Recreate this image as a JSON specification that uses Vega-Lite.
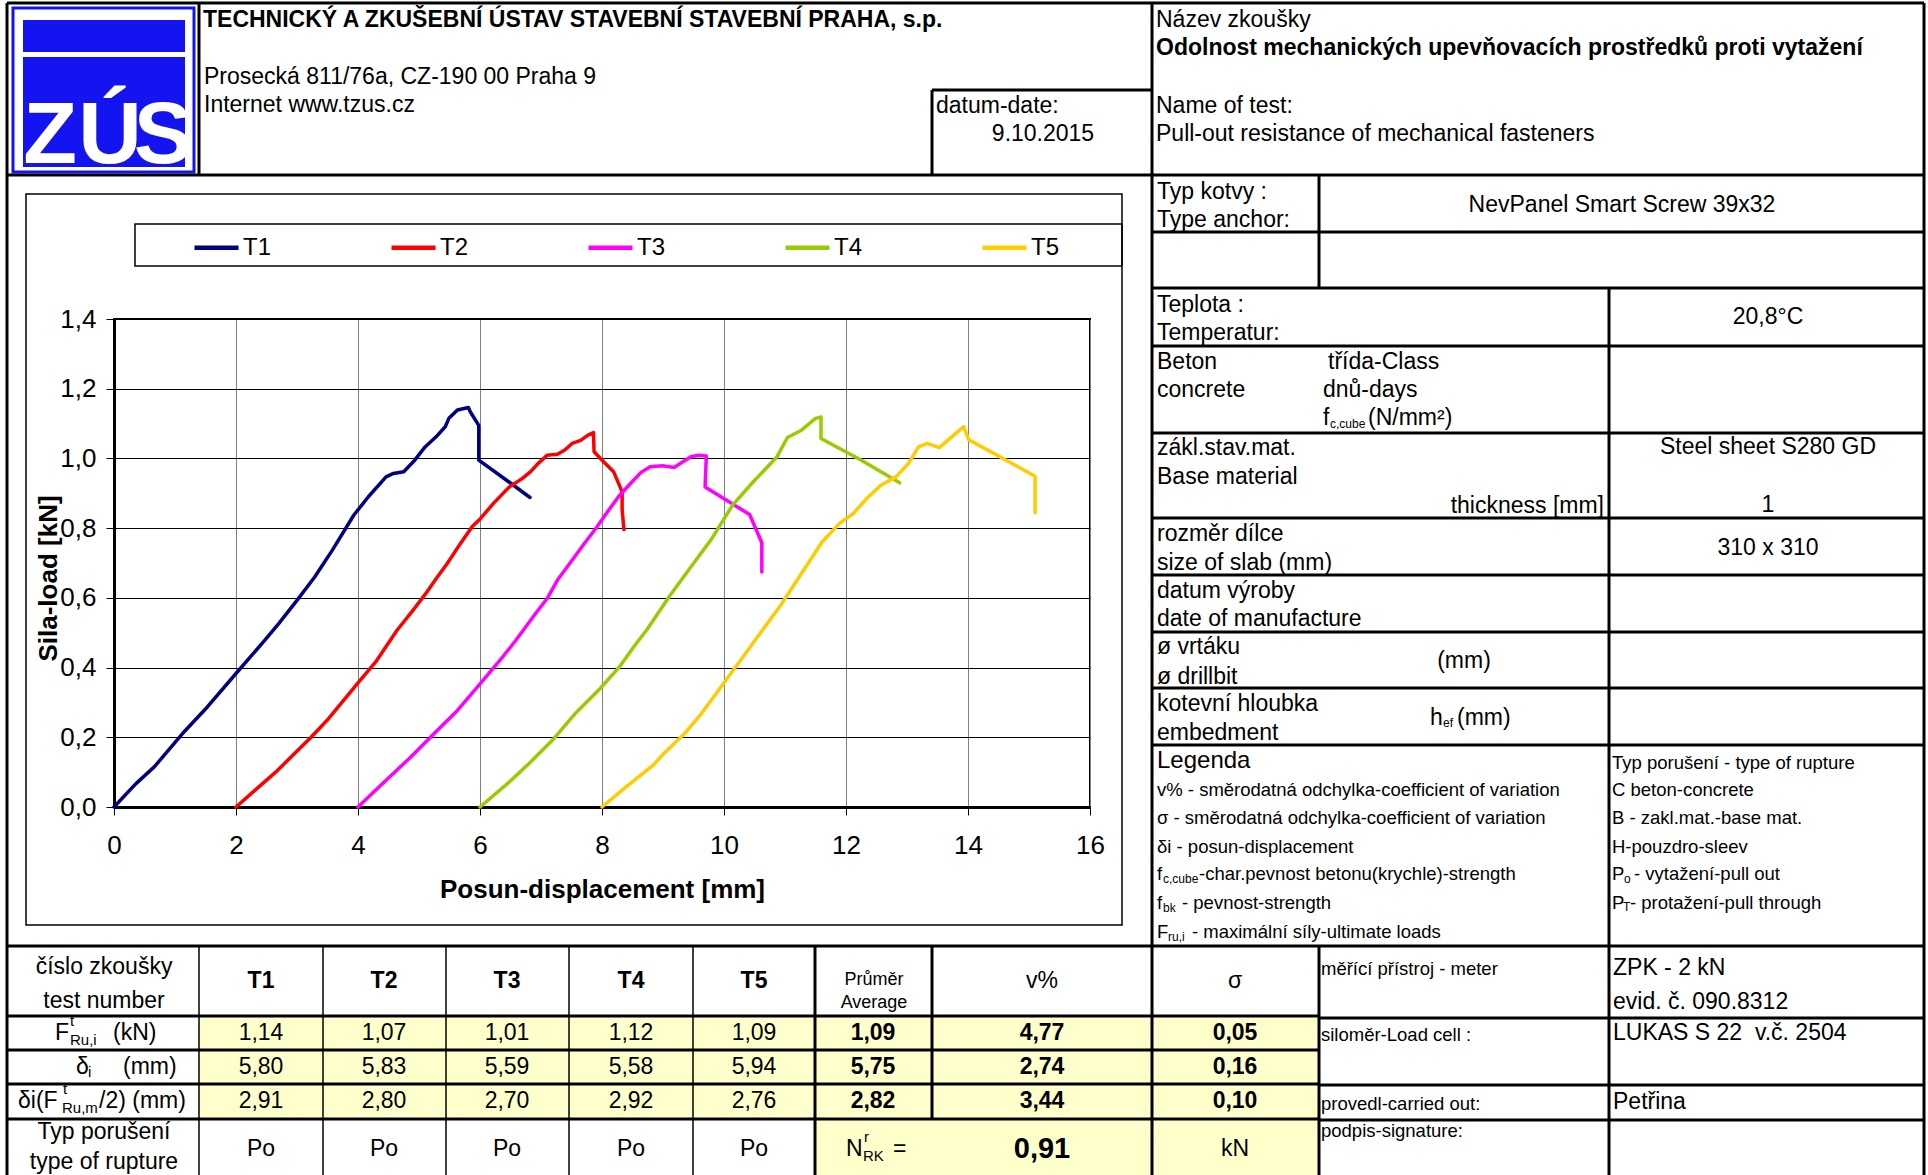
{
  "$schema": "https://vega.github.io/schema/vega-lite/v6.json",
  "width": 976,
  "height": 488,
  "autosize": {"type": "none"},
  "padding": {"left": 114, "top": 319, "right": 838, "bottom": 368},
  "background": "white",
  "config": {
    "font": "Liberation Sans",
    "view": {"stroke": "#000", "strokeWidth": 2}
  },
  "datasets": {
    "curves": [
      {"s":"T1","d":0,"f":0},{"s":"T1","d":0.36,"f":0.067},{"s":"T1","d":0.66,"f":0.115},{"s":"T1","d":1.12,"f":0.21},{"s":"T1","d":1.53,"f":0.287},{"s":"T1","d":2.0,"f":0.383},{"s":"T1","d":2.47,"f":0.478},{"s":"T1","d":2.7,"f":0.526},{"s":"T1","d":3.0,"f":0.593},{"s":"T1","d":3.29,"f":0.66},{"s":"T1","d":3.58,"f":0.737},{"s":"T1","d":3.93,"f":0.837},{"s":"T1","d":4.17,"f":0.89},{"s":"T1","d":4.46,"f":0.947},{"s":"T1","d":4.58,"f":0.957},{"s":"T1","d":4.75,"f":0.962},{"s":"T1","d":4.93,"f":0.995},{"s":"T1","d":5.1,"f":1.033},{"s":"T1","d":5.28,"f":1.062},{"s":"T1","d":5.43,"f":1.091},{"s":"T1","d":5.49,"f":1.115},{"s":"T1","d":5.63,"f":1.139},{"s":"T1","d":5.81,"f":1.146},{"s":"T1","d":5.84,"f":1.134},{"s":"T1","d":5.98,"f":1.095},{"s":"T1","d":5.98,"f":0.995},{"s":"T1","d":6.51,"f":0.928},{"s":"T1","d":6.82,"f":0.888},
      {"s":"T2","d":2.0,"f":0},{"s":"T2","d":2.65,"f":0.1},{"s":"T2","d":3.23,"f":0.2},{"s":"T2","d":3.52,"f":0.254},{"s":"T2","d":3.99,"f":0.354},{"s":"T2","d":4.29,"f":0.416},{"s":"T2","d":4.64,"f":0.507},{"s":"T2","d":4.9,"f":0.564},{"s":"T2","d":5.11,"f":0.612},{"s":"T2","d":5.28,"f":0.655},{"s":"T2","d":5.46,"f":0.698},{"s":"T2","d":5.66,"f":0.751},{"s":"T2","d":5.87,"f":0.804},{"s":"T2","d":6.01,"f":0.828},{"s":"T2","d":6.22,"f":0.871},{"s":"T2","d":6.48,"f":0.918},{"s":"T2","d":6.69,"f":0.942},{"s":"T2","d":6.83,"f":0.962},{"s":"T2","d":6.95,"f":0.985},{"s":"T2","d":7.1,"f":1.009},{"s":"T2","d":7.27,"f":1.012},{"s":"T2","d":7.39,"f":1.024},{"s":"T2","d":7.51,"f":1.043},{"s":"T2","d":7.65,"f":1.052},{"s":"T2","d":7.77,"f":1.067},{"s":"T2","d":7.86,"f":1.074},{"s":"T2","d":7.87,"f":1.019},{"s":"T2","d":8.03,"f":0.99},{"s":"T2","d":8.19,"f":0.962},{"s":"T2","d":8.33,"f":0.904},{"s":"T2","d":8.33,"f":0.852},{"s":"T2","d":8.36,"f":0.796},
      {"s":"T3","d":4.0,"f":0},{"s":"T3","d":4.46,"f":0.077},{"s":"T3","d":4.87,"f":0.144},{"s":"T3","d":5.22,"f":0.206},{"s":"T3","d":5.63,"f":0.277},{"s":"T3","d":5.98,"f":0.349},{"s":"T3","d":6.28,"f":0.411},{"s":"T3","d":6.57,"f":0.474},{"s":"T3","d":6.89,"f":0.55},{"s":"T3","d":7.1,"f":0.598},{"s":"T3","d":7.27,"f":0.651},{"s":"T3","d":7.51,"f":0.708},{"s":"T3","d":7.71,"f":0.756},{"s":"T3","d":7.92,"f":0.804},{"s":"T3","d":8.09,"f":0.847},{"s":"T3","d":8.27,"f":0.89},{"s":"T3","d":8.44,"f":0.923},{"s":"T3","d":8.64,"f":0.96},{"s":"T3","d":8.79,"f":0.976},{"s":"T3","d":8.99,"f":0.979},{"s":"T3","d":9.18,"f":0.974},{"s":"T3","d":9.32,"f":0.99},{"s":"T3","d":9.46,"f":1.005},{"s":"T3","d":9.58,"f":1.009},{"s":"T3","d":9.71,"f":1.007},{"s":"T3","d":9.69,"f":0.918},{"s":"T3","d":10.42,"f":0.839},{"s":"T3","d":10.62,"f":0.758},{"s":"T3","d":10.62,"f":0.674},
      {"s":"T4","d":6.0,"f":0},{"s":"T4","d":6.45,"f":0.067},{"s":"T4","d":6.8,"f":0.124},{"s":"T4","d":7.21,"f":0.196},{"s":"T4","d":7.56,"f":0.268},{"s":"T4","d":7.97,"f":0.34},{"s":"T4","d":8.3,"f":0.405},{"s":"T4","d":8.56,"f":0.469},{"s":"T4","d":8.73,"f":0.507},{"s":"T4","d":9.12,"f":0.608},{"s":"T4","d":9.46,"f":0.689},{"s":"T4","d":9.8,"f":0.77},{"s":"T4","d":10.14,"f":0.866},{"s":"T4","d":10.48,"f":0.933},{"s":"T4","d":10.87,"f":1.005},{"s":"T4","d":11.04,"f":1.06},{"s":"T4","d":11.27,"f":1.081},{"s":"T4","d":11.5,"f":1.115},{"s":"T4","d":11.59,"f":1.119},{"s":"T4","d":11.59,"f":1.057},{"s":"T4","d":12.23,"f":0.997},{"s":"T4","d":12.88,"f":0.93},
      {"s":"T5","d":8.0,"f":0},{"s":"T5","d":8.39,"f":0.057},{"s":"T5","d":8.84,"f":0.12},{"s":"T5","d":9.01,"f":0.153},{"s":"T5","d":9.35,"f":0.21},{"s":"T5","d":9.63,"f":0.268},{"s":"T5","d":9.91,"f":0.335},{"s":"T5","d":10.25,"f":0.416},{"s":"T5","d":10.59,"f":0.498},{"s":"T5","d":10.93,"f":0.579},{"s":"T5","d":11.27,"f":0.67},{"s":"T5","d":11.61,"f":0.761},{"s":"T5","d":11.89,"f":0.813},{"s":"T5","d":12.12,"f":0.842},{"s":"T5","d":12.34,"f":0.885},{"s":"T5","d":12.57,"f":0.923},{"s":"T5","d":12.82,"f":0.947},{"s":"T5","d":13.02,"f":0.985},{"s":"T5","d":13.19,"f":1.033},{"s":"T5","d":13.33,"f":1.043},{"s":"T5","d":13.53,"f":1.031},{"s":"T5","d":13.7,"f":1.057},{"s":"T5","d":13.93,"f":1.091},{"s":"T5","d":14.01,"f":1.054},{"s":"T5","d":15.1,"f":0.949},{"s":"T5","d":15.1,"f":0.844}
    ],
    "thick": [
      {"x":7,"y":3,"x2":1924,"y2":3},{"x":7,"y":3,"x2":7,"y2":1175},{"x":1924,"y":3,"x2":1924,"y2":1175},
      {"x":199,"y":3,"x2":199,"y2":175},{"x":7,"y":175,"x2":1924,"y2":175},
      {"x":932,"y":90,"x2":1152,"y2":90},{"x":932,"y":90,"x2":932,"y2":175},
      {"x":1152,"y":3,"x2":1152,"y2":1175},
      {"x":1152,"y":232,"x2":1924,"y2":232},{"x":1152,"y":288,"x2":1924,"y2":288},{"x":1152,"y":346,"x2":1924,"y2":346},{"x":1152,"y":433,"x2":1924,"y2":433},{"x":1152,"y":518,"x2":1924,"y2":518},{"x":1152,"y":575,"x2":1924,"y2":575},{"x":1152,"y":632,"x2":1924,"y2":632},{"x":1152,"y":688,"x2":1924,"y2":688},{"x":1152,"y":745,"x2":1924,"y2":745},
      {"x":1319,"y":175,"x2":1319,"y2":288},{"x":1609,"y":288,"x2":1609,"y2":1175},
      {"x":7,"y":946,"x2":1924,"y2":946},
      {"x":7,"y":1016,"x2":1319,"y2":1016},{"x":7,"y":1050,"x2":1319,"y2":1050},{"x":7,"y":1084,"x2":1319,"y2":1084},{"x":7,"y":1119,"x2":1319,"y2":1119},
      {"x":1319,"y":1018,"x2":1924,"y2":1018},{"x":1319,"y":1085,"x2":1924,"y2":1085},{"x":1319,"y":1120,"x2":1924,"y2":1120},
      {"x":815,"y":946,"x2":815,"y2":1175},{"x":932,"y":946,"x2":932,"y2":1119},{"x":1319,"y":946,"x2":1319,"y2":1175}
    ],
    "thin": [
      {"x":199,"y":946,"x2":199,"y2":1175},{"x":323,"y":946,"x2":323,"y2":1175},{"x":446,"y":946,"x2":446,"y2":1175},{"x":569,"y":946,"x2":569,"y2":1175},{"x":693,"y":946,"x2":693,"y2":1175}
    ],
    "frames": [
      {"x":26,"y":194,"x2":1122,"y2":925},{"x":135,"y":224,"x2":1122,"y2":266}
    ],
    "yellow": [
      {"x":199,"y":1016,"x2":1319,"y2":1119},{"x":815,"y":1119,"x2":1319,"y2":1175}
    ],
    "logoFill": [
      {"x":23,"y":20,"x2":185,"y2":52},{"x":23,"y":57,"x2":185,"y2":167}
    ],
    "logoFrame": [
      {"x":13,"y":8,"x2":194,"y2":172}
    ],
    "logoText": [
      {"t":"Z","x":50,"y":163},{"t":"Ú","x":110,"y":163},{"t":"S","x":163,"y":163}
    ],
    "regLeft": [
      {"t":"Prosecká 811/76a, CZ-190 00 Praha 9","x":204,"y":77},
      {"t":"Internet www.tzus.cz","x":204,"y":105},
      {"t":"datum-date:","x":936,"y":106},
      {"t":"Název zkoušky","x":1156,"y":20},
      {"t":"Name of test:","x":1156,"y":106},
      {"t":"Pull-out resistance of mechanical fasteners","x":1156,"y":134},
      {"t":"Typ kotvy :","x":1157,"y":192},
      {"t":"Type anchor:","x":1157,"y":220},
      {"t":"Teplota :","x":1157,"y":305},
      {"t":"Temperatur:","x":1157,"y":333},
      {"t":"Beton","x":1157,"y":362},
      {"t":"concrete","x":1157,"y":390},
      {"t":"třída-Class","x":1328,"y":362},
      {"t":"dnů-days","x":1323,"y":390},
      {"t":"f","x":1323,"y":418},
      {"t":"(N/mm²)","x":1368,"y":418},
      {"t":"zákl.stav.mat.","x":1157,"y":448},
      {"t":"Base material","x":1157,"y":477},
      {"t":"rozměr dílce","x":1157,"y":534},
      {"t":"size of slab (mm)","x":1157,"y":563},
      {"t":"datum výroby","x":1157,"y":591},
      {"t":"date of manufacture","x":1157,"y":619},
      {"t":"ø vrtáku","x":1157,"y":647},
      {"t":"ø drillbit","x":1157,"y":677},
      {"t":"kotevní hloubka","x":1157,"y":704},
      {"t":"embedment","x":1157,"y":733},
      {"t":"h","x":1430,"y":718},
      {"t":"(mm)","x":1457,"y":718},
      {"t":"ZPK - 2 kN","x":1613,"y":968},
      {"t":"evid. č. 090.8312","x":1613,"y":1002},
      {"t":"LUKAS S 22 \u00a0v.č. 2504","x":1613,"y":1033},
      {"t":"Petřina","x":1613,"y":1102},
      {"t":"F","x":55,"y":1033},
      {"t":"(kN)","x":113,"y":1033},
      {"t":"δ","x":76,"y":1067},
      {"t":"(mm)","x":123,"y":1067},
      {"t":"δi(F","x":18,"y":1101},
      {"t":"/2) (mm)","x":99,"y":1101},
      {"t":"N","x":846,"y":1149},
      {"t":"=","x":893,"y":1149}
    ],
    "regRight": [
      {"t":"thickness [mm]","x":1604,"y":506}
    ],
    "regCenter": [
      {"t":"9.10.2015","x":1043,"y":134},
      {"t":"NevPanel Smart Screw 39x32","x":1622,"y":205},
      {"t":"20,8°C","x":1768,"y":317},
      {"t":"Steel sheet S280 GD","x":1768,"y":447},
      {"t":"1","x":1768,"y":505},
      {"t":"310 x 310","x":1768,"y":548},
      {"t":"(mm)","x":1464,"y":661},
      {"t":"číslo zkoušky","x":104,"y":967},
      {"t":"test number","x":104,"y":1001},
      {"t":"Typ porušení","x":104,"y":1132},
      {"t":"type of rupture","x":104,"y":1162},
      {"t":"1,14","x":261,"y":1033},{"t":"1,07","x":384,"y":1033},{"t":"1,01","x":507,"y":1033},{"t":"1,12","x":631,"y":1033},{"t":"1,09","x":754,"y":1033},
      {"t":"5,80","x":261,"y":1067},{"t":"5,83","x":384,"y":1067},{"t":"5,59","x":507,"y":1067},{"t":"5,58","x":631,"y":1067},{"t":"5,94","x":754,"y":1067},
      {"t":"2,91","x":261,"y":1101},{"t":"2,80","x":384,"y":1101},{"t":"2,70","x":507,"y":1101},{"t":"2,92","x":631,"y":1101},{"t":"2,76","x":754,"y":1101},
      {"t":"Po","x":261,"y":1149},{"t":"Po","x":384,"y":1149},{"t":"Po","x":507,"y":1149},{"t":"Po","x":631,"y":1149},{"t":"Po","x":754,"y":1149},
      {"t":"v%","x":1042,"y":981},
      {"t":"σ","x":1235,"y":981},
      {"t":"kN","x":1235,"y":1149}
    ],
    "boldLeft": [
      {"t":"TECHNICKÝ A ZKUŠEBNÍ ÚSTAV STAVEBNÍ STAVEBNÍ PRAHA, s.p.","x":203,"y":20},
      {"t":"Odolnost mechanických upevňovacích prostředků proti vytažení","x":1156,"y":48}
    ],
    "boldCenter": [
      {"t":"T1","x":261,"y":981},{"t":"T2","x":384,"y":981},{"t":"T3","x":507,"y":981},{"t":"T4","x":631,"y":981},{"t":"T5","x":754,"y":981},
      {"t":"1,09","x":873,"y":1033},{"t":"4,77","x":1042,"y":1033},{"t":"0,05","x":1235,"y":1033},
      {"t":"5,75","x":873,"y":1067},{"t":"2,74","x":1042,"y":1067},{"t":"0,16","x":1235,"y":1067},
      {"t":"2,82","x":873,"y":1101},{"t":"3,44","x":1042,"y":1101},{"t":"0,10","x":1235,"y":1101}
    ],
    "bigBold": [
      {"t":"0,91","x":1042,"y":1149}
    ],
    "legendaTitle": [
      {"t":"Legenda","x":1157,"y":761}
    ],
    "smallLeft": [
      {"t":"v% - směrodatná odchylka-coefficient of variation","x":1157,"y":790},
      {"t":"σ - směrodatná odchylka-coefficient of variation","x":1157,"y":818},
      {"t":"δi - posun-displacement","x":1157,"y":847},
      {"t":"f","x":1157,"y":874},
      {"t":"-char.pevnost betonu(krychle)-strength","x":1199,"y":874},
      {"t":"f","x":1157,"y":903},
      {"t":"- pevnost-strength","x":1182,"y":903},
      {"t":"F","x":1157,"y":932},
      {"t":"- maximální síly-ultimate loads","x":1192,"y":932},
      {"t":"Typ porušení - type of rupture","x":1612,"y":763},
      {"t":"C beton-concrete","x":1612,"y":790},
      {"t":"B - zakl.mat.-base mat.","x":1612,"y":818},
      {"t":"H-pouzdro-sleev","x":1612,"y":847},
      {"t":"P","x":1612,"y":874},
      {"t":"- vytažení-pull out","x":1634,"y":874},
      {"t":"P","x":1612,"y":903},
      {"t":"- protažení-pull through","x":1630,"y":903},
      {"t":"měřící přístroj - meter","x":1321,"y":969},
      {"t":"siloměr-Load cell :","x":1321,"y":1035},
      {"t":"provedl-carried out:","x":1321,"y":1104},
      {"t":"podpis-signature:","x":1321,"y":1131}
    ],
    "smallCenter": [
      {"t":"Průměr","x":874,"y":980},
      {"t":"Average","x":874,"y":1003}
    ],
    "tinyTable": [
      {"t":"t","x":70,"y":1021},
      {"t":"Ru,i","x":70,"y":1040},
      {"t":"i","x":88,"y":1072},
      {"t":"t","x":63,"y":1089},
      {"t":"Ru,m","x":62,"y":1108},
      {"t":"r","x":864,"y":1137},
      {"t":"RK","x":863,"y":1156}
    ],
    "tiny": [
      {"t":"c,cube","x":1330,"y":424},
      {"t":"ef","x":1443,"y":723},
      {"t":"c,cube","x":1163,"y":879},
      {"t":"bk","x":1163,"y":908},
      {"t":"ru,i","x":1168,"y":937},
      {"t":"o","x":1624,"y":879},
      {"t":"T","x":1623,"y":907}
    ]
  },
  "layer": [
    {
      "encoding": {
        "x": {"field": "x", "type": "quantitative", "scale": {"domain": [114, 1090], "nice": false, "zero": false}, "axis": null},
        "y": {"field": "y", "type": "quantitative", "scale": {"domain": [319, 807], "nice": false, "zero": false, "reverse": true}, "axis": null}
      },
      "layer": [
        {"data": {"name": "yellow"}, "mark": {"type": "rect", "fill": "#FFFFCC", "clip": false}, "encoding": {"x2": {"field": "x2"}, "y2": {"field": "y2"}}},
        {"data": {"name": "logoFill"}, "mark": {"type": "rect", "fill": "#1414F0", "clip": false}, "encoding": {"x2": {"field": "x2"}, "y2": {"field": "y2"}}},
        {"data": {"name": "logoFrame"}, "mark": {"type": "rect", "fill": "transparent", "stroke": "#1414F0", "strokeWidth": 3, "clip": false}, "encoding": {"x2": {"field": "x2"}, "y2": {"field": "y2"}}},
        {"data": {"name": "frames"}, "mark": {"type": "rect", "fill": "transparent", "stroke": "#000", "strokeWidth": 1.5, "clip": false}, "encoding": {"x2": {"field": "x2"}, "y2": {"field": "y2"}}},
        {"data": {"name": "thin"}, "mark": {"type": "rule", "stroke": "#000", "strokeWidth": 1.5, "clip": false}, "encoding": {"x2": {"field": "x2"}, "y2": {"field": "y2"}}},
        {"data": {"name": "thick"}, "mark": {"type": "rule", "stroke": "#000", "strokeWidth": 3, "clip": false}, "encoding": {"x2": {"field": "x2"}, "y2": {"field": "y2"}}},
        {"data": {"name": "logoText"}, "mark": {"type": "text", "font": "Liberation Sans", "fontWeight": "bold", "fontSize": 88, "fill": "#fff", "align": "center", "baseline": "alphabetic", "clip": false}, "encoding": {"text": {"field": "t"}}},
        {"data": {"name": "regLeft"}, "mark": {"type": "text", "fontSize": 23, "fill": "#000", "align": "left", "baseline": "middle", "clip": false}, "encoding": {"text": {"field": "t"}}},
        {"data": {"name": "regRight"}, "mark": {"type": "text", "fontSize": 23, "fill": "#000", "align": "right", "baseline": "middle", "clip": false}, "encoding": {"text": {"field": "t"}}},
        {"data": {"name": "regCenter"}, "mark": {"type": "text", "fontSize": 23, "fill": "#000", "align": "center", "baseline": "middle", "clip": false}, "encoding": {"text": {"field": "t"}}},
        {"data": {"name": "boldLeft"}, "mark": {"type": "text", "fontSize": 23, "fontWeight": "bold", "fill": "#000", "align": "left", "baseline": "middle", "clip": false}, "encoding": {"text": {"field": "t"}}},
        {"data": {"name": "boldCenter"}, "mark": {"type": "text", "fontSize": 23, "fontWeight": "bold", "fill": "#000", "align": "center", "baseline": "middle", "clip": false}, "encoding": {"text": {"field": "t"}}},
        {"data": {"name": "bigBold"}, "mark": {"type": "text", "fontSize": 29, "fontWeight": "bold", "fill": "#000", "align": "center", "baseline": "middle", "clip": false}, "encoding": {"text": {"field": "t"}}},
        {"data": {"name": "legendaTitle"}, "mark": {"type": "text", "fontSize": 24, "fill": "#000", "align": "left", "baseline": "middle", "clip": false}, "encoding": {"text": {"field": "t"}}},
        {"data": {"name": "smallLeft"}, "mark": {"type": "text", "fontSize": 18.5, "fill": "#000", "align": "left", "baseline": "middle", "clip": false}, "encoding": {"text": {"field": "t"}}},
        {"data": {"name": "smallCenter"}, "mark": {"type": "text", "fontSize": 18, "fill": "#000", "align": "center", "baseline": "middle", "clip": false}, "encoding": {"text": {"field": "t"}}},
        {"data": {"name": "tinyTable"}, "mark": {"type": "text", "fontSize": 15, "fill": "#000", "align": "left", "baseline": "middle", "clip": false}, "encoding": {"text": {"field": "t"}}},
        {"data": {"name": "tiny"}, "mark": {"type": "text", "fontSize": 12, "fill": "#000", "align": "left", "baseline": "middle", "clip": false}, "encoding": {"text": {"field": "t"}}}
      ]
    },
    {
      "data": {"name": "curves"},
      "mark": {"type": "line", "strokeWidth": 3.5, "strokeCap": "round", "strokeJoin": "round"},
      "encoding": {
        "x": {
          "field": "d", "type": "quantitative",
          "scale": {"domain": [0, 16], "nice": false, "zero": false},
          "axis": {
            "orient": "bottom", "values": [0, 2, 4, 6, 8, 10, 12, 14, 16], "title": "Posun-displacement [mm]",
            "grid": true, "gridColor": "#808080", "gridWidth": 1, "gridOpacity": 1,
            "domainColor": "#000", "domainWidth": 3, "tickColor": "#000", "tickSize": 8, "tickWidth": 1,
            "labelFontSize": 26, "labelColor": "#000", "labelPadding": 30, "labelBaseline": "middle", "labelFlush": false,
            "titleFontSize": 26, "titleFontWeight": "bold", "titleColor": "#000", "titleY": 82, "titleBaseline": "middle"
          }
        },
        "y": {
          "field": "f", "type": "quantitative",
          "scale": {"domain": [0, 1.4], "nice": false, "zero": true},
          "axis": {
            "orient": "left", "values": [0, 0.2, 0.4, 0.6, 0.8, 1.0, 1.2, 1.4], "title": "Sila-load [kN]",
            "labelExpr": "replace(format(datum.value, '.1f'), '.', ',')",
            "grid": true, "gridColor": "#000", "gridWidth": 1, "gridOpacity": 1,
            "domainColor": "#000", "domainWidth": 3, "tickColor": "#000", "tickSize": 8, "tickWidth": 1,
            "labelFontSize": 26, "labelColor": "#000", "labelPadding": 10, "labelFlush": false,
            "titleFontSize": 26, "titleFontWeight": "bold", "titleColor": "#000", "titleX": -66, "titleY": 259, "titleBaseline": "middle", "titleAlign": "center", "titleAngle": -90
          }
        },
        "color": {
          "field": "s", "type": "nominal",
          "scale": {"domain": ["T1", "T2", "T3", "T4", "T5"], "range": ["#000080", "#FF0000", "#FF00FF", "#99CC00", "#FFCC00"]},
          "legend": {
            "orient": "none", "legendX": 78, "legendY": -96, "direction": "horizontal", "columns": 5, "title": null,
            "symbolType": "stroke", "symbolSize": 1936, "symbolStrokeWidth": 4.5, "labelFontSize": 24, "labelColor": "#000",
            "labelOffset": 2, "columnPadding": 110, "padding": 0
          }
        },
        "order": {"value": null}
      }
    }
  ],
  "resolve": {"scale": {"x": "independent", "y": "independent"}}
}
